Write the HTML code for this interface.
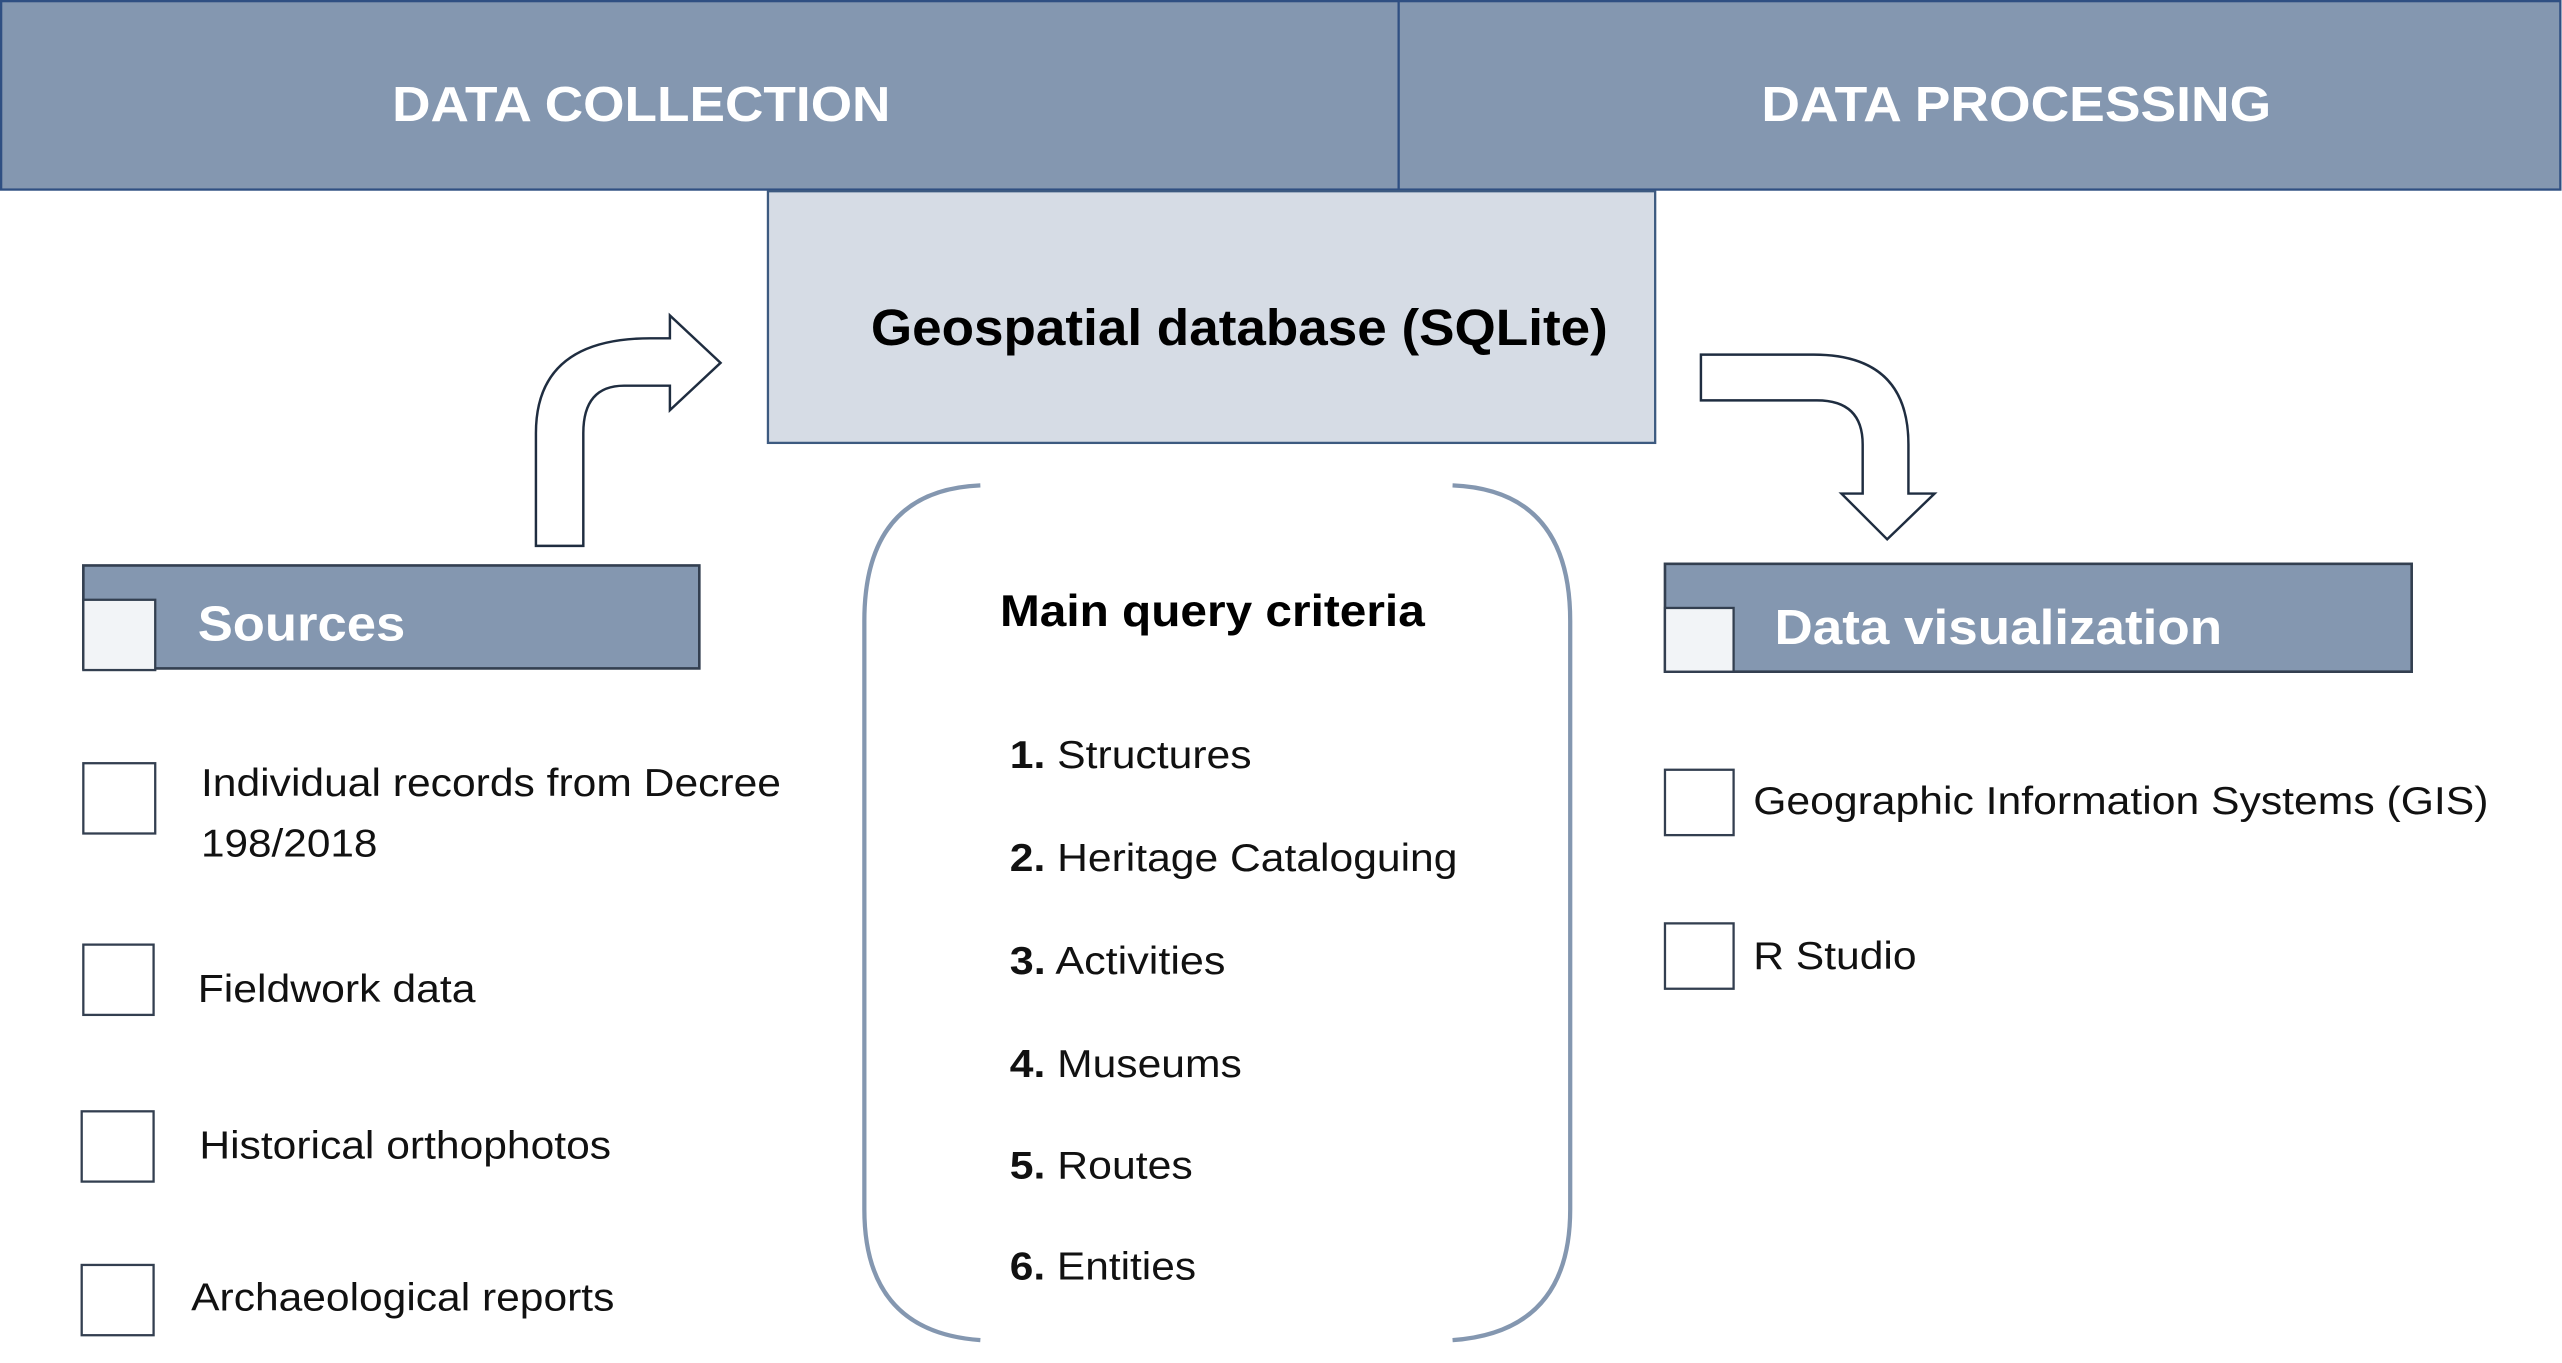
<!DOCTYPE html>
<html><head><meta charset="utf-8"><style>
html,body{margin:0;padding:0;background:#fff;}
svg{display:block;}
text{font-family:"Liberation Sans",Arial,sans-serif;}
</style></head><body>
<svg width="2562" height="1363" viewBox="0 0 1568 834" preserveAspectRatio="none" xmlns="http://www.w3.org/2000/svg">
<rect x="0" y="0" width="1568" height="834" fill="#fff"/>
<rect x="0.7" y="0.7" width="855.3" height="115.3" fill="#8497b0" stroke="#2f4f82" stroke-width="1.4"/>
<rect x="856" y="0.7" width="711" height="115.3" fill="#8497b0" stroke="#2f4f82" stroke-width="1.4"/>
<text x="240" y="74" font-size="30" font-weight="bold" fill="#fff" textLength="305" lengthAdjust="spacingAndGlyphs">DATA COLLECTION</text>
<text x="1078" y="74" font-size="30" font-weight="bold" fill="#fff" textLength="312" lengthAdjust="spacingAndGlyphs">DATA PROCESSING</text>
<rect x="470" y="117" width="543" height="154" fill="#d6dce5" stroke="#3d5a80" stroke-width="1.4"/>
<text x="533" y="211" font-size="31" font-weight="bold" fill="#000" textLength="451" lengthAdjust="spacingAndGlyphs">Geospatial database (SQLite)</text>
<path d="M328,334 L328,265 Q328,207 398,207 L410,207 L410,193 L441,222 L410,251 L410,236 L382,236 Q357,236 357,265 L357,334 Z" fill="#fff" stroke="#1f2d40" stroke-width="1.5"/>
<path d="M1041,217 L1110,217 Q1168,217 1168,272 L1168,302 L1184,302 L1155,330 L1127,302 L1140,302 L1140,272 Q1140,245 1112,245 L1041,245 Z" fill="#fff" stroke="#1f2d40" stroke-width="1.5"/>
<rect x="51" y="346" width="377" height="63" fill="#8497b0" stroke="#333f50" stroke-width="1.6"/>
<rect x="51" y="367" width="44" height="43" fill="#f2f4f7" stroke="#333f50" stroke-width="1.4"/>
<text x="121" y="392" font-size="30" font-weight="bold" fill="#fff" textLength="127" lengthAdjust="spacingAndGlyphs">Sources</text>
<rect x="1019" y="345" width="457" height="66" fill="#8497b0" stroke="#333f50" stroke-width="1.6"/>
<rect x="1019" y="372" width="42" height="39" fill="#f2f4f7" stroke="#333f50" stroke-width="1.4"/>
<text x="1086" y="394" font-size="30" font-weight="bold" fill="#fff" textLength="274" lengthAdjust="spacingAndGlyphs">Data visualization</text>
<g fill="#fff" stroke="#333f50" stroke-width="1.4">
<rect x="51" y="467" width="44" height="43"/>
<rect x="51" y="578" width="43" height="43"/>
<rect x="50" y="680" width="44" height="43"/>
<rect x="50" y="774" width="44" height="43"/>
<rect x="1019" y="471" width="42" height="40"/>
<rect x="1019" y="565" width="42" height="40"/>
</g>
<g font-size="24" fill="#111">
<text x="123" y="487" textLength="355" lengthAdjust="spacingAndGlyphs">Individual records from Decree</text>
<text x="123" y="524" textLength="108" lengthAdjust="spacingAndGlyphs">198/2018</text>
<text x="121" y="613" textLength="170" lengthAdjust="spacingAndGlyphs">Fieldwork data</text>
<text x="122" y="709" textLength="252" lengthAdjust="spacingAndGlyphs">Historical orthophotos</text>
<text x="117" y="802" textLength="259" lengthAdjust="spacingAndGlyphs">Archaeological reports</text>
<text x="1073" y="498" textLength="450" lengthAdjust="spacingAndGlyphs">Geographic Information Systems (GIS)</text>
<text x="1073" y="593" textLength="100" lengthAdjust="spacingAndGlyphs">R Studio</text>
</g>
<path d="M600,297 Q529,300 529,380 L529,740 Q529,815 600,820" fill="none" stroke="#8497b0" stroke-width="2.6"/>
<path d="M889,297 Q961,300 961,380 L961,740 Q961,815 889,820" fill="none" stroke="#8497b0" stroke-width="2.6"/>
<text x="612" y="383" font-size="27" font-weight="bold" fill="#000" textLength="260" lengthAdjust="spacingAndGlyphs">Main query criteria</text>
<g font-size="24" fill="#111">
<text x="618" y="470" textLength="148" lengthAdjust="spacingAndGlyphs"><tspan font-weight="bold">1.</tspan> Structures</text>
<text x="618" y="533" textLength="274" lengthAdjust="spacingAndGlyphs"><tspan font-weight="bold">2.</tspan> Heritage Cataloguing</text>
<text x="618" y="596" textLength="132" lengthAdjust="spacingAndGlyphs"><tspan font-weight="bold">3.</tspan> Activities</text>
<text x="618" y="659" textLength="142" lengthAdjust="spacingAndGlyphs"><tspan font-weight="bold">4.</tspan> Museums</text>
<text x="618" y="721" textLength="112" lengthAdjust="spacingAndGlyphs"><tspan font-weight="bold">5.</tspan> Routes</text>
<text x="618" y="783" textLength="114" lengthAdjust="spacingAndGlyphs"><tspan font-weight="bold">6.</tspan> Entities</text>
</g>
</svg>
</body></html>
